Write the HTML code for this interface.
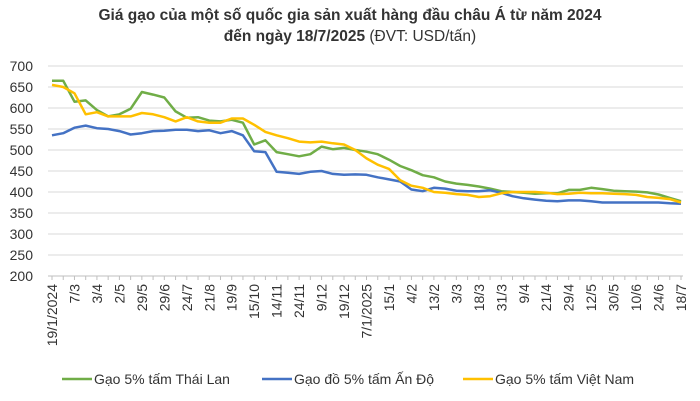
<!DOCTYPE html>
<html><head><meta charset="utf-8">
<style>
body{margin:0;background:#fff;font-family:"Liberation Sans",sans-serif;}
#wrap{position:relative;width:700px;height:401px;overflow:hidden;}
.title{position:absolute;left:0;width:700px;text-align:center;font-size:15.5px;font-weight:bold;color:#333;}
</style></head>
<body>
<div id="wrap">
<div class="title" style="top:7px">Giá gạo của một số quốc gia sản xuất hàng đầu châu Á từ năm 2024</div>
<div class="title" style="top:28px">đến ngày 18/7/2025 <span style="font-weight:normal">(ĐVT: USD/tấn)</span></div>
<svg id="svg" width="700" height="401" style="position:absolute;left:0;top:0"></svg>
</div>
<script>
const categories=["19/1/2024","7/3","3/4","2/5","29/5","29/6","24/7","21/8","19/9","15/10","14/11","24/11","9/12","19/12","7/1/2025","15/1","4/2","13/2","3/3","18/3","31/3","9/4","21/4","29/4","12/5","30/5","10/6","24/6","18/7"];
const yTicks=[200,250,300,350,400,450,500,550,600,650,700];
const thai=[665,665,615,618,595,580,585,598,638,632,625,592,577,578,570,568,572,565,513,523,495,490,485,490,508,502,505,500,496,490,477,462,452,440,435,425,420,417,413,408,402,400,398,396,397,397,405,405,410,407,403,402,401,399,394,386,378];
const india=[535,540,553,558,552,550,545,537,540,545,546,548,548,545,547,540,545,535,497,495,448,446,443,448,450,443,441,442,441,435,430,425,406,402,410,408,403,402,402,404,398,390,385,382,379,378,380,380,378,375,375,375,375,375,375,373,372];
const vietnam=[655,650,635,585,590,580,580,580,588,585,578,568,578,568,565,565,575,575,560,543,535,528,520,518,520,516,513,500,480,465,455,428,415,410,400,398,395,393,388,390,397,400,400,400,398,395,396,398,397,397,396,395,393,388,386,383,375];
const legendNames=["Gạo 5% tấm Thái Lan","Gạo đồ 5% tấm Ấn Độ","Gạo 5% tấm Việt Nam"];
const colors=["#70ad47","#4472c4","#ffc000"];
const svg=document.getElementById('svg');
const NS="http://www.w3.org/2000/svg";
const X0=52,X1=681,Y0=276,Y1=66;
const yS=v=>Y0-(v-200)/500*(Y0-Y1);
const xCat=i=>X0+i*(X1-X0)/(categories.length-1);
const xPt=(i,n)=>X0+i*(X1-X0)/(n-1);
function mk(t,a){const e=document.createElementNS(NS,t);for(const k in a)e.setAttribute(k,a[k]);svg.appendChild(e);return e;}
yTicks.forEach(v=>{
  const g=mk('line',{x1:48,x2:X1+2,y1:yS(v),y2:yS(v),stroke:v===200?'#bfbfbf':'#d9d9d9','stroke-width':1});
  
  
  const t=mk('text',{x:33,y:yS(v)+5,'text-anchor':'end','font-size':14,fill:'#333'});
  t.textContent=v;
  
  
});
for(let i=0;i<categories.length*2-1;i++){
  const x=X0+i*(X1-X0)/((categories.length-1)*2);
  const tk=mk('line',{x1:x,x2:x,y1:Y0,y2:Y0+4,stroke:'#bfbfbf'});
  
  
}
categories.forEach((c,i)=>{
  const x=xCat(i);
  const t=mk('text',{x:0,y:0,'text-anchor':'end','font-size':14,fill:'#333',transform:`translate(${x+5},${Y0+8}) rotate(-90)`});
  t.textContent=c;
  
  
});
[thai,india,vietnam].forEach((s,k)=>{
  const d=s.map((v,i)=>(i?'L':'M')+xPt(i,s.length).toFixed(1)+','+yS(v).toFixed(1)).join('');
  const p=mk('path',{d:d,fill:'none',stroke:colors[k],'stroke-width':2.5,'stroke-linejoin':'round'});
  
  
});
const lx=[62,262,463];
legendNames.forEach((n,k)=>{
  const l=mk('line',{x1:lx[k],x2:lx[k]+30,y1:379,y2:379,stroke:colors[k],'stroke-width':2.5});
  
  
  const t=mk('text',{x:lx[k]+32,y:384,'font-size':14,fill:'#333'});
  t.textContent=n;
  
  
});
</script>
</body></html>
